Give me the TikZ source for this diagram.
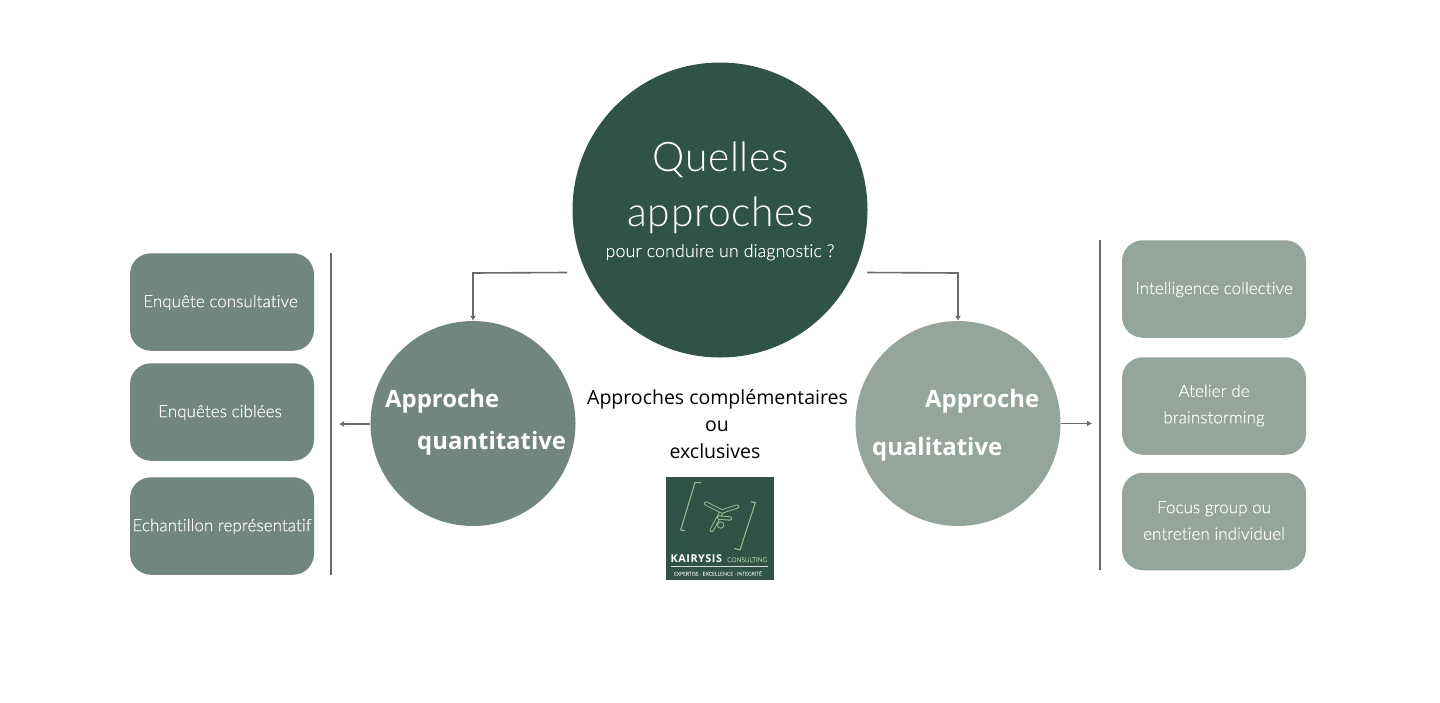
\documentclass[tikz,border=0pt]{standalone}
\usepackage{fontspec}
\setmainfont{Open Sans}
\newfontfamily\lightf[Ligatures=NoCommon,Contextuals=NoAlternate,LetterSpace=0.6,FakeBold=0.35]{Lato Light}
\newfontfamily\headf[Ligatures=NoCommon,LetterSpace=1.5]{Lato Light}
\newfontfamily\logof[LetterSpace=5]{Open Sans}
\usetikzlibrary{arrows.meta}
\definecolor{darkg}{HTML}{315246}
\definecolor{midg}{HTML}{71867C}
\definecolor{lightg}{HTML}{94A59C}
\definecolor{linec}{HTML}{6A6A6A}
\definecolor{logol}{HTML}{A3C09A}
\tikzset{
  x=1pt,y=-1pt,
  circ/.style={circle,inner sep=0pt,minimum size=#1},
  pill/.style={rounded corners=21pt,minimum width=184pt,minimum height=97.5pt,inner sep=0pt},
  pilltext/.style={inner sep=0pt,align=center,text=white,font=\lightf\fontsize{16.9}{26.5}\selectfont},
  rule/.style={linec,line width=1.6pt},
  conn/.style={linec,line width=1.6pt,-{Latex[length=5pt,width=6pt]}},
  lbl/.style={inner sep=0pt,text=white,font=\bfseries\fontsize{23.9}{28}\selectfont,anchor=base west},
  logoline/.style={logol,line width=1pt,line join=round},
  logomark/.style={logol,line width=0.9pt,double=darkg,double distance=2.4pt,line cap=round,line join=round},
}
\begin{document}
\begin{tikzpicture}
\useasboundingbox (0,0) rectangle (1440,702);
\fill[white] (0,0) rectangle (1440,702);
% circles
\node[circ=295pt,fill=darkg] (main) at (720,210) {};
\node[circ=205pt,fill=midg] (quant) at (473,423.5) {};
\node[circ=205pt,fill=lightg] (qual) at (958,423.5) {};
% main text
\node[inner sep=0pt,text=white,font=\headf\fontsize{40.8}{40}\selectfont,anchor=base] (t1) at (720.5,171) {Quelles};
\node[inner sep=0pt,text=white,font=\headf\fontsize{40.8}{40}\selectfont,anchor=base] (t2) at (720.5,226) {approches};
\node[inner sep=0pt,text=white,font=\lightf\fontsize{17.8}{18}\selectfont,anchor=base] (t3) at (720,257) {pour conduire un diagnostic ?};
% approach labels
\node[lbl] (q1) at (385,407.5) {Approche};
\node[lbl] (q2) at (417,449.5) {quantitative};
\node[lbl] (l1) at (925,407.5) {Approche};
\node[lbl] (l2) at (872,455.5) {qualitative};
% centre text
\node[inner sep=0pt,align=center,font=\fontsize{19.5}{27}\selectfont,text=black,anchor=base] (c1) at (717.5,404) {Approches complémentaires};
\node[inner sep=0pt,font=\fontsize{19.5}{27}\selectfont,text=black,anchor=base] (c2) at (717,431) {ou};
\node[inner sep=0pt,font=\fontsize{19.5}{27}\selectfont,text=black,anchor=base] (c3) at (715,458) {exclusives};
% left pills
\node[pill,fill=midg] (a1) at (222,302) {};
\node[pill,fill=midg] (a2) at (222,412) {};
\node[pill,fill=midg] (a3) at (222,526) {};
\node[pilltext] (a1t) at ([xshift=-1.5pt,yshift=-0.5pt]a1.center) {Enquête consultative};
\node[pilltext] (a2t) at ([xshift=-2pt,yshift=-0.5pt]a2.center) {Enquêtes ciblées};
\node[pilltext] (a3t) at ([yshift=-0.5pt]a3.center) {Echantillon représentatif};
% right pills
\node[pill,fill=lightg] (b1) at (1214,289) {};
\node[pill,fill=lightg] (b2) at (1214,406) {};
\node[pill,fill=lightg] (b3) at (1214,521.5) {};
\node[pilltext] (b1t) at ([yshift=-0.5pt]b1.center) {Intelligence collective};
\node[pilltext] (b2t) at ([yshift=0.5pt]b2.center) {Atelier de\\brainstorming};
\node[pilltext] (b3t) at ([yshift=1pt]b3.center) {Focus group ou\\entretien individuel};
% rules
\coordinate (rlt) at (331,253); \coordinate (rlb) at (331,575);
\coordinate (rrt) at (1100,240); \coordinate (rrb) at (1100,570);
\draw[rule] (rlt) -- (rlb);
\draw[rule] (rrt) -- (rrb);
% connectors
\coordinate (sl) at (567,272.5); \coordinate (sr) at (867,272.5);
\draw[conn] (sl) -- (473,273) -- (quant.north);
\draw[conn] (sr) -- (958,273) -- (qual.north);
\coordinate (el) at (339,424); \coordinate (er) at (1092,423.5);
\draw[conn] (quant.west) ++(0,0.5) -- (el);
\draw[conn] (qual.east) -- (er);
% logo
\fill[darkg] (666,477) rectangle (774,580);
\draw[logoline] (701,482.5) -- (695,482.5) -- (680.7,530) -- (685,530.7);
\draw[logoline] (751,501.7) -- (755.3,502.7) -- (740,550) -- (734.3,548.3);
\draw[logomark] (722,511) -- (711.7,530);
\draw[logomark] (719,517.5) -- (730,518.5);
\draw[logomark] (706,503.5) -- (722,511.5) -- (737,506.5);
\draw[logoline,line width=0.8pt] (720.7,525) circle (3.2pt);
\node[inner sep=0pt,anchor=base west,text=white,font=\logof\bfseries\fontsize{10.8}{12}\selectfont] (k1) at (670.5,562) {KAIRYSIS};
\node[inner sep=0pt,anchor=base west,text=logol,font=\lightf\fontsize{6.4}{7}\selectfont] (k2) at (727,562) {CONSULTING};
\coordinate (kl) at (670.5,566.5); \coordinate (kr) at (767.5,566.5);
\draw[white!80!darkg,line width=0.6pt] (kl) -- (kr);
\node[inner sep=0pt,anchor=base,text=white!85!darkg,font=\lightf\fontsize{5}{5}\selectfont] (k3) at (718,575.5) {EXPERTISE · EXCELLENCE · INTEGRITÉ};
\end{tikzpicture}
\end{document}
